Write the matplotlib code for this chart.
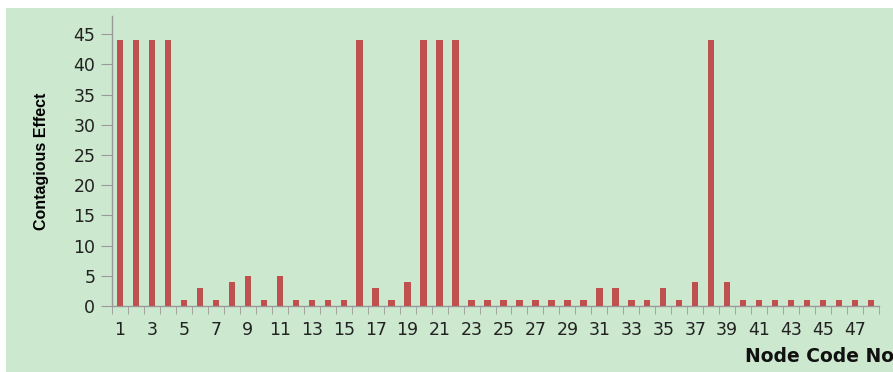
import matplotlib
matplotlib.use("Agg")
import matplotlib.pyplot as plt
import numpy as np

# データ
nodes = list(range(1, 49))
effect = [44, 44, 44, 44, 1, 3, 1, 4, 5, 1,
          5, 1, 1, 1, 1, 44, 3, 1, 4, 44,
          44, 44, 1, 1, 1, 1, 1, 1, 1, 1,
          3, 3, 1, 1, 3, 1, 4, 44, 4, 1,
          1, 1, 1, 1, 1, 1, 1, 1]
y_ticks = [0, 5, 10, 15, 20, 25, 30, 35, 40, 45]

W, H = 893, 372
fig = plt.figure(figsize=(W / 100, H / 100), dpi=100)
fig.patch.set_facecolor("white")

# 緑の背景
bg = fig.add_axes([6 / W, 0, 1 - 6 / W, (H - 8) / H], zorder=-1)
bg.set_facecolor("#CCE8CF")
bg.set_xticks([])
bg.set_yticks([])
for s in bg.spines.values():
    s.set_visible(False)

ax = fig.add_axes([112 / W, 66 / H, (879 - 112) / W, (306 - 16) / H], zorder=1)
ax.set_facecolor("none")

ax.bar(nodes, effect, width=0.4, color="#C0504D", zorder=3)

ax.set_xlim(0.5, 48.5)
ax.set_ylim(0, 48)
ax.set_yticks(y_ticks)
ax.set_xticks(nodes[::2])
ax.set_xticks(np.arange(0.5, 49, 1), minor=True)

gray = "#9A9A9A"
for s in ["top", "right"]:
    ax.spines[s].set_visible(False)
for s in ["left", "bottom"]:
    ax.spines[s].set_color(gray)
    ax.spines[s].set_linewidth(1.0)

ax.tick_params(axis="y", direction="out", length=8, color=gray,
               labelsize=12.5, pad=4, labelcolor="#222222")
ax.tick_params(axis="x", which="major", length=0, labelsize=12.5, pad=11,
               labelcolor="#222222")
ax.tick_params(axis="x", which="minor", direction="out", length=6, color=gray)

ax.set_ylabel("Contagious Effect", family="Liberation Sans",
              fontweight="bold", fontsize=11.5)
ax.yaxis.set_label_coords((49 - 112) / (879 - 112), (306 - 161) / (306 - 16))

fig.text(745 / W, (H - 357) / H, "Node Code No", fontweight="bold",
         fontsize=13.5, ha="left", va="center", color="#111111")

fig.savefig("out.png", dpi=100)
